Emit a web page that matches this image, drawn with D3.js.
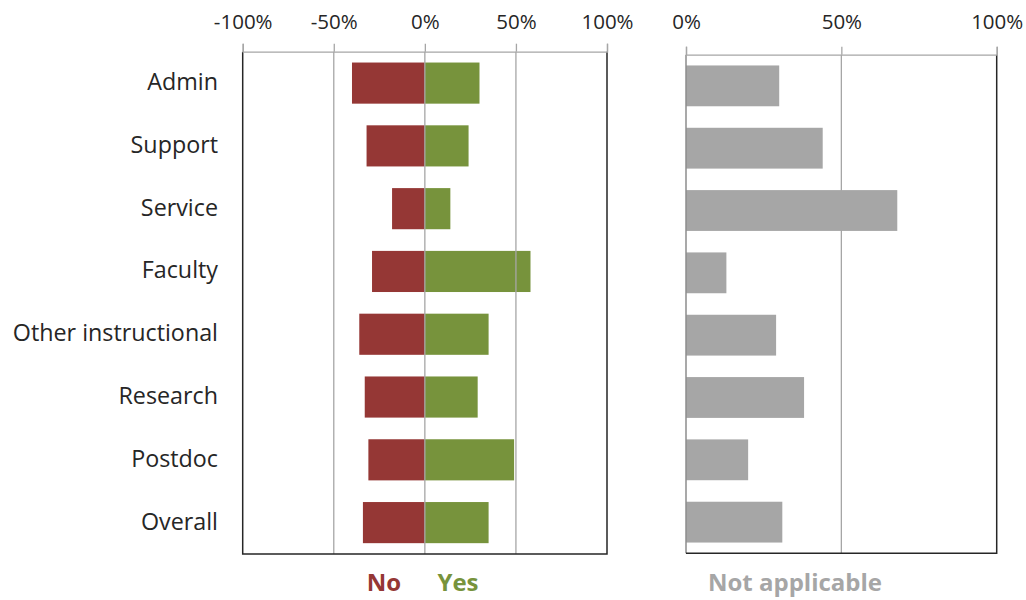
<!DOCTYPE html>
<html>
<head>
<meta charset="utf-8">
<script src="https://cdn.jsdelivr.net/npm/d3@7"></script>
<style>
  html, body { margin: 0; padding: 0; background: #fff; }
  svg { display: block; font-family: "Open Sans", "Noto Sans", sans-serif; }
</style>
</head>
<body>
<svg id="chart" width="1026" height="600"></svg>
<script>
// Survey answers by staff group (percent of respondents)
const categories = ["Admin", "Support", "Service", "Faculty", "Other instructional", "Research", "Postdoc", "Overall"];
const noValues = [40, 32, 18, 29, 36, 33, 31, 34];
const yesValues = [30, 24, 14, 58, 35, 29, 49, 35];
const naValues = [30, 44, 68, 13, 29, 38, 20, 31];
const divergingTicks = [-100, -50, 0, 50, 100];
const naTicks = [0, 50, 100];

const colors = { no: "#953735", yes: "#77933c", na: "#a6a6a6", grid: "#a6a6a6", frame: "#262626", text: "#262626" };

const svg = d3.select("#chart");

// Left panel: diverging No / Yes bars
const left = { x0: 242.7, x1: 607, y0: 51.7, y1: 554 };
const xL = d3.scaleLinear().domain([-100, 100]).range([left.x0, left.x1]);
const yL = d3.scaleBand().domain(categories).range([left.y0, left.y1]).paddingInner(0.345).paddingOuter(0.1725);

// Right panel: Not applicable bars
const right = { x0: 686, x1: 996.7, y0: 54.7, y1: 553.3 };
const xR = d3.scaleLinear().domain([0, 100]).range([right.x0, right.x1]);
const yR = d3.scaleBand().domain(categories).range([right.y0, right.y1]).paddingInner(0.345).paddingOuter(0.1725);

const pct = d => d + "%";

// ---- left panel ----
const gL = svg.append("g");

gL.append("g").selectAll("rect.no").data(categories).join("rect")
  .attr("x", (d, i) => xL(-noValues[i]))
  .attr("y", d => yL(d))
  .attr("width", (d, i) => xL(0) - xL(-noValues[i]))
  .attr("height", yL.bandwidth())
  .attr("fill", colors.no);

gL.append("g").selectAll("rect.yes").data(categories).join("rect")
  .attr("x", xL(0))
  .attr("y", d => yL(d))
  .attr("width", (d, i) => xL(yesValues[i]) - xL(0))
  .attr("height", yL.bandwidth())
  .attr("fill", colors.yes);

// inner gridlines
gL.append("g").selectAll("line").data([-50, 0, 50]).join("line")
  .attr("x1", d => xL(d)).attr("x2", d => xL(d))
  .attr("y1", left.y0).attr("y2", left.y1)
  .attr("stroke", colors.grid).attr("stroke-width", 1.3);

// frame
gL.append("path")
  .attr("d", `M${left.x0},${left.y0}V${left.y1}H${left.x1}V${left.y0}`)
  .attr("fill", "none").attr("stroke", colors.frame).attr("stroke-width", 1.5);

// top axis
const axisL = d3.axisTop(xL).tickValues(divergingTicks).tickFormat(pct).tickSize(8).tickPadding(15);
const axL = gL.append("g").attr("transform", `translate(0,${left.y0})`).call(axisL);
axL.select(".domain").attr("stroke", colors.grid).attr("stroke-width", 1.3);
axL.selectAll(".tick line").attr("stroke", colors.grid).attr("stroke-width", 1.3);
axL.selectAll(".tick text").attr("fill", colors.text).attr("font-size", 20.5)
  .attr("font-family", "Open Sans, Noto Sans, sans-serif");

// category labels
gL.append("g").selectAll("text").data(categories).join("text")
  .attr("x", 218)
  .attr("y", d => yL(d) + yL.bandwidth() / 2)
  .attr("dy", "0.3em")
  .attr("text-anchor", "end")
  .attr("font-size", 23.3)
  .attr("fill", colors.text)
  .text(d => d);

// ---- right panel ----
const gR = svg.append("g");

gR.append("g").selectAll("rect").data(categories).join("rect")
  .attr("x", xR(0))
  .attr("y", d => yR(d))
  .attr("width", (d, i) => xR(naValues[i]) - xR(0))
  .attr("height", yR.bandwidth())
  .attr("fill", colors.na);

gR.append("line")
  .attr("x1", xR(50)).attr("x2", xR(50))
  .attr("y1", right.y0).attr("y2", right.y1)
  .attr("stroke", colors.grid).attr("stroke-width", 1.3);

gR.append("line")
  .attr("x1", right.x0).attr("x2", right.x0)
  .attr("y1", right.y0).attr("y2", right.y1)
  .attr("stroke", "#8c8c8c").attr("stroke-width", 1.5);

gR.append("path")
  .attr("d", `M${right.x0},${right.y1}H${right.x1}V${right.y0}`)
  .attr("fill", "none").attr("stroke", colors.frame).attr("stroke-width", 1.5);

const axisR = d3.axisTop(xR).tickValues(naTicks).tickFormat(pct).tickSize(8).tickPadding(17.5);
const axR = gR.append("g").attr("transform", `translate(0,${right.y0})`).call(axisR);
axR.select(".domain").attr("stroke", colors.grid).attr("stroke-width", 1.3);
axR.selectAll(".tick line").attr("stroke", colors.grid).attr("stroke-width", 1.3);
axR.selectAll(".tick text").attr("fill", colors.text).attr("font-size", 20.5)
  .attr("font-family", "Open Sans, Noto Sans, sans-serif");

// ---- legend labels ----
const legend = [
  { text: "No", x: 384, color: colors.no },
  { text: "Yes", x: 458, color: colors.yes },
  { text: "Not applicable", x: 795, color: colors.na }
];
svg.append("g").selectAll("text").data(legend).join("text")
  .attr("x", d => d.x)
  .attr("y", 590.5)
  .attr("text-anchor", "middle")
  .attr("font-size", 24)
  .attr("font-weight", "bold")
  .attr("fill", d => d.color)
  .text(d => d.text);
</script>
</body>
</html>
